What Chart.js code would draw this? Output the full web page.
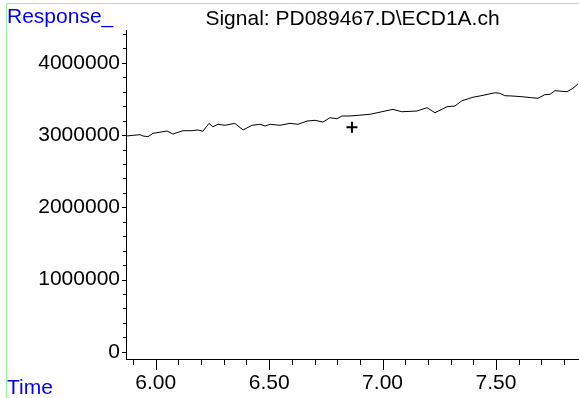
<!DOCTYPE html>
<html>
<head>
<meta charset="utf-8">
<title>Signal: PD089467.D\ECD1A.ch</title>
<script src="https://cdn.jsdelivr.net/npm/chart.js@4.4.1/dist/chart.umd.min.js"></script>
<style>
  body { margin: 0; background: #fff; }
  #wrap { position: absolute; left: 0; top: 0; width: 579px; height: 398px; }
</style>
</head>
<body>
<div id="wrap"><canvas id="myChart" width="579" height="398"></canvas></div>
<script>
// signal trace (time in min, response)
var times = [5.872, 5.900, 5.931, 5.944, 5.966, 5.988, 6.050, 6.076, 6.120, 6.160, 6.186, 6.208, 6.235, 6.252, 6.275, 6.305, 6.349, 6.385, 6.424, 6.460, 6.482, 6.504, 6.548, 6.592, 6.627, 6.667, 6.702, 6.737, 6.768, 6.799, 6.821, 6.856, 6.944, 6.997, 7.046, 7.085, 7.152, 7.196, 7.231, 7.284, 7.319, 7.350, 7.398, 7.443, 7.496, 7.517, 7.539, 7.570, 7.614, 7.658, 7.685, 7.715, 7.738, 7.760, 7.813, 7.839, 7.861]
var responses = [2988000, 2997000, 3006000, 2988000, 2978000, 3025000, 3057000, 3015000, 3061000, 3061000, 3071000, 3053000, 3163000, 3116000, 3150000, 3136000, 3163000, 3071000, 3136000, 3150000, 3126000, 3150000, 3136000, 3163000, 3150000, 3195000, 3205000, 3181000, 3241000, 3227000, 3265000, 3265000, 3288000, 3324000, 3357000, 3324000, 3334000, 3380000, 3310000, 3393000, 3403000, 3476000, 3524000, 3551000, 3587000, 3579000, 3546000, 3542000, 3532000, 3518000, 3510000, 3560000, 3565000, 3615000, 3601000, 3648000, 3708000]
// cursor cross
var cursorTime = [6.865]
var cursorResponse = [3110000]
// axis ticks and ranges
var xTicks = [6.0, 6.5, 7.0, 7.5]
var yTicks = [0, 1000000, 2000000, 3000000, 4000000]
var xRange = [5.869, 7.866]
var yRange = [-101000, 4456000]
var xMinorStep = 0.1
var yMinorStep = 200000

var FONT = "'Liberation Sans', Arial, sans-serif"

var framePlugin = {//green frame, blue axis names, title, tick marks
    id: 'frame',
    beforeDraw: function (chart) {
        var ctx = chart.ctx
        ctx.save()
        ctx.fillStyle = '#fff'
        ctx.fillRect(0, 0, chart.width, chart.height)
        ctx.strokeStyle = '#99ee99'
        ctx.lineWidth = 1
        ctx.beginPath()
        ctx.moveTo(6.5, chart.height)
        ctx.lineTo(6.5, 3.5)
        ctx.lineTo(chart.width, 3.5)
        ctx.stroke()
        ctx.restore()
    },
    afterDraw: function (chart) {
        var ctx = chart.ctx
        var area = chart.chartArea
        var xs = chart.scales.x
        var ys = chart.scales.y
        ctx.save()
        ctx.font = '21px ' + FONT
        ctx.textBaseline = 'alphabetic'
        ctx.fillStyle = '#0000ff'
        ctx.textAlign = 'left'
        ctx.fillText('Response_', 7, 23)
        ctx.fillText('Time', 7, 394)
        ctx.fillStyle = '#000'
        ctx.textAlign = 'center'
        ctx.fillText('Signal: PD089467.D\\ECD1A.ch', (area.left + area.right) / 2, 25)
        // tick marks
        ctx.strokeStyle = '#000'
        ctx.lineWidth = 1
        ctx.beginPath()
        var i, v, p
        for (i = Math.ceil(xRange[0] / xMinorStep); i * xMinorStep <= xRange[1]; i++) {
            v = i * xMinorStep
            p = Math.round(xs.getPixelForValue(v)) + 0.5
            var major = Math.abs(v * 2 - Math.round(v * 2)) < 1e-6
            ctx.moveTo(p, area.bottom)
            ctx.lineTo(p, area.bottom + (major ? 11 : 6))
        }
        for (i = 0; i * yMinorStep <= yRange[1]; i++) {
            v = i * yMinorStep
            p = Math.round(ys.getPixelForValue(v)) + 0.5
            var majorY = v % 1000000 === 0
            ctx.moveTo(area.left, p)
            ctx.lineTo(area.left - (majorY ? 4 : 3), p)
        }
        ctx.stroke()
        ctx.restore()
    }
}

function setChart() {
    var trace = times.map(function (t, i) { return { x: t, y: responses[i] } })
    var cursor = cursorTime.map(function (t, i) { return { x: t, y: cursorResponse[i] } })
    new Chart(document.getElementById("myChart"), {
        type: 'line',
        data: {
            datasets: [
                {
                    label: 'ECD1A',
                    data: trace,
                    borderColor: '#000',
                    borderWidth: 1,
                    pointRadius: 0,
                    tension: 0,
                    fill: false
                },
                {
                    label: 'cursor',
                    data: cursor,
                    showLine: false,
                    pointStyle: 'cross',
                    pointRadius: 5.5,
                    pointBorderWidth: 2,
                    pointBorderColor: '#000'
                }
            ]
        },
        options: {
            responsive: false,
            animation: false,
            devicePixelRatio: 1,
            layout: { autoPadding: false, padding: { top: 30, right: 0, left: 0, bottom: 0 } },//no room kept for the point radius
            plugins: { legend: { display: false }, tooltip: { enabled: false }, title: { display: false } },
            scales: {
                x: {
                    type: 'linear',
                    min: xRange[0],
                    max: xRange[1],
                    afterBuildTicks: function (scale) { scale.ticks = xTicks.map(function (v) { return { value: v } }) },
                    afterFit: function (scale) {
                        scale.height = 39
                        scale.paddingLeft = 0//no extra room for the edge labels
                        scale.paddingRight = 0
                    },
                    grid: { display: false, drawTicks: false },
                    border: { display: true, color: '#000', width: 1 },
                    ticks: {
                        padding: 12,
                        color: '#000',
                        font: { family: FONT, size: 21 },
                        maxRotation: 0,
                        autoSkip: false,
                        callback: function (v) { return Number(v).toFixed(2) }
                    }
                },
                y: {
                    type: 'linear',
                    min: yRange[0],
                    max: yRange[1],
                    afterBuildTicks: function (scale) { scale.ticks = yTicks.map(function (v) { return { value: v } }) },
                    afterFit: function (scale) {
                        scale.width = 126
                        scale.paddingTop = 0
                        scale.paddingBottom = 0
                    },
                    grid: { display: false, drawTicks: false },
                    border: { display: true, color: '#000', width: 1 },
                    ticks: {
                        padding: 6,
                        color: '#000',
                        font: { family: FONT, size: 21 },
                        autoSkip: false,
                        callback: function (v) { return String(v) }
                    }
                }
            }
        },
        plugins: [framePlugin]
    });
}

window.onload = function () {
    setChart()
};
</script>
</body>
</html>
